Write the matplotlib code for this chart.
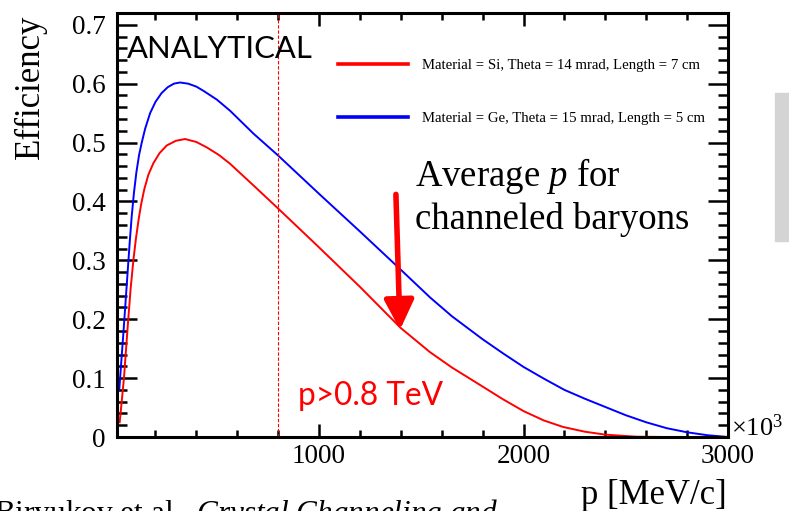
import matplotlib
matplotlib.use("Agg")
import matplotlib.pyplot as plt
from matplotlib.ticker import MultipleLocator, FuncFormatter
from matplotlib.patches import Rectangle

# efficiency curves (p in MeV/c x 10^3)
p_si = [25, 35, 46, 56, 67, 79, 92, 105, 118, 130, 145, 165, 190, 220, 255,
        300, 345, 400, 450, 510, 565, 680, 800, 1000, 1200, 1400, 1543, 1650,
        1789, 1900, 2000, 2100, 2194, 2300, 2400, 2550, 2700]
eff_si = [0.025, 0.06, 0.1, 0.148, 0.2, 0.253, 0.3, 0.338, 0.37, 0.395, 0.42,
          0.445, 0.465, 0.482, 0.495, 0.503, 0.506, 0.501, 0.492, 0.479, 0.464,
          0.427, 0.388, 0.322, 0.255, 0.185, 0.144, 0.118, 0.088, 0.064, 0.044,
          0.028, 0.017, 0.009, 0.004, 0.0005, 0.0]

p_ge = [23, 33, 43, 52, 62, 74, 84, 95, 107, 120, 133, 150, 174, 200, 230,
        260, 290, 320, 360, 400, 434, 500, 565, 680, 800, 1000, 1200, 1400,
        1543, 1650, 1800, 1900, 2000, 2100, 2200, 2300, 2400, 2500, 2600, 2700,
        2800, 2900, 3000]
eff_ge = [0.08, 0.128, 0.175, 0.22, 0.27, 0.33, 0.375, 0.415, 0.45, 0.479,
          0.5, 0.524, 0.55, 0.569, 0.584, 0.594, 0.6, 0.602, 0.6, 0.595, 0.588,
          0.573, 0.554, 0.515, 0.478, 0.413, 0.349, 0.284, 0.237, 0.205, 0.166,
          0.142, 0.119, 0.099, 0.08, 0.065, 0.051, 0.037, 0.025, 0.015, 0.008,
          0.003, 0.0]

labels = ["Material = Si, Theta = 14 mrad, Length = 7 cm",
          "Material = Ge, Theta = 15 mrad, Length = 5 cm"]

p_cut = 800
arrow_tail = (1376, 0.412)
arrow_tip = (1396, 0.182)

W, H = 789, 511
plt.rcParams['font.family'] = ['Liberation Serif', 'DejaVu Serif']
plt.rcParams['mathtext.fontset'] = 'custom'
plt.rcParams['mathtext.rm'] = 'Liberation Serif'
plt.rcParams['mathtext.it'] = 'Liberation Serif:italic'

fig = plt.figure(figsize=(W / 100, H / 100), dpi=100)
ax = fig.add_axes([117 / W, 1 - 437 / H, (728 - 117) / W, (437 - 13) / H])


def fx(x):
    return x / W


def fy(y):
    return 1 - y / H


ax.plot(p_si, eff_si, color='#ff0000', lw=1.4, label=labels[0])
ax.plot(p_ge, eff_ge, color='#0000ff', lw=1.4, label=labels[1])
ax.axvline(p_cut, color='#ff0000', lw=0.8, ls=(0, (3, 1.6)))

ax.set_xlim(12, 3000)
ax.set_ylim(0, 0.72)
ax.xaxis.set_major_locator(MultipleLocator(1000))
ax.xaxis.set_minor_locator(MultipleLocator(200))
ax.yaxis.set_major_locator(MultipleLocator(0.1))
ax.yaxis.set_minor_locator(MultipleLocator(0.02))
ax.xaxis.set_major_formatter(FuncFormatter(lambda v, pos: '%g' % v))
ax.yaxis.set_major_formatter(FuncFormatter(lambda v, pos: '%g' % round(v, 2)))

for s in ax.spines.values():
    s.set_linewidth(2.2)
ax.tick_params(which='both', direction='in', top=True, right=True, width=1.8,
               labelsize=19.5)
ax.tick_params(axis='y', which='major', length=14.4, pad=8)
ax.tick_params(axis='y', which='minor', length=7.2)
ax.tick_params(axis='x', which='major', length=9.4, pad=5)
ax.tick_params(axis='x', which='minor', length=5)

ax.set_ylabel('Efficiency', fontsize=25, loc='top')
ax.yaxis.set_label_coords((47 - 117) / 611, 0.995)
ax.set_xlabel('p [MeV/c]', fontsize=25, loc='right')
ax.xaxis.set_label_coords((727 - 117) / 611, -0.10)

leg = ax.legend(frameon=False, fontsize=10.6, handlelength=4.75,
                handletextpad=0.95, labelspacing=2.7, borderpad=0,
                borderaxespad=0, loc='center left',
                bbox_to_anchor=((338 - 117) / 611, (437 - 92) / 424))
for ln in leg.get_lines():
    ln.set_linewidth(2.6)

ax.annotate('', xy=arrow_tip, xytext=arrow_tail,
            arrowprops=dict(arrowstyle='-|>', color='#ff0000', lw=4,
                            mutation_scale=45, shrinkA=0, shrinkB=0))

fig.text(fx(127), fy(58), 'ANALYTICAL', family='Lato', fontsize=22.3,
         va='baseline')
fig.text(fx(298), fy(405), 'p>0.8 TeV', family='Lato', fontsize=22.8,
         color='#ff0000', va='baseline')
fig.text(fx(415), fy(186), 'Average $p$ for', fontsize=26.5, va='baseline')
fig.text(fx(415), fy(229), 'channeled baryons', fontsize=26.5, va='baseline')
fig.text(fx(731), fy(436), r'$\times10^3$', fontsize=19, va='baseline')
fig.text(fx(-6), fy(522), r'Biryukov et al., $\it{Crystal\ Channeling\ and}$',
         fontsize=22.5, va='baseline')

fig.patches.append(Rectangle((fx(775), fy(241)), fx(20), (241 - 93) / H,
                             transform=fig.transFigure, color='#d4d4d4',
                             zorder=0))

fig.savefig('out.png', dpi=100)
